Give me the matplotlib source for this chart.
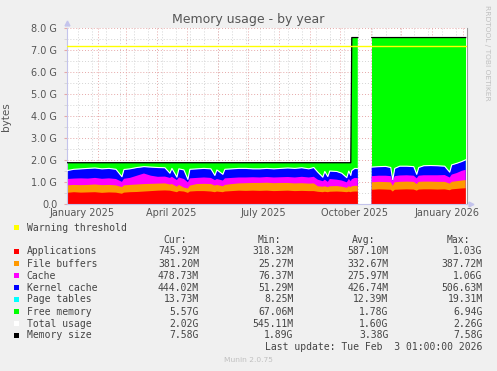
import numpy as np
import pandas as pd
import matplotlib
matplotlib.use('Agg')
import matplotlib.pyplot as plt
from matplotlib.patches import Rectangle

W, H = 497, 371
nan = np.nan

# days since 1 January 2025; values in GiB
days = [0, 7, 14, 21, 28, 35, 42, 49, 55, 57, 63, 70, 77, 84, 91, 98, 103, 105,
        110, 112, 117, 121, 123, 130, 137, 144, 148, 150, 156, 158, 165, 172, 179,
        186, 193, 200, 207, 214, 221, 228, 235, 242, 247, 251, 256, 258, 261, 263,
        270, 275, 280, 282, 284, 285, 288, 291, 298, 305, 312, 319, 324, 326, 328,
        333, 340, 347, 350, 352, 357, 364, 371, 378, 383, 385, 390, 395, 399]
apps = [.52, .55, .53, .54, .55, .52, .54, .53, .48, .53, .55, .56, .58, .60, .62, .63, .62, .60,
        .55, .60, .58, .52, .58, .60, .60, .58, .55, .58, .55, .58, .60, .62, .61,
        .62, .61, .62, .60, .61, .62, .60, .61, .60, .60, .57, .55, .57, .55, .57,
        .58, .57, .55, .57, .55, .57, .58, .58, nan, .66, .68, .67, .66, .58, .66,
        .67, .68, .67, .62, .67, .68, .68, .67, .68, .64, .68, .70, .72, .73]
buffers = [.34, .33, .34, .34, .35, .35, .34, .33, .30, .33, .33, .34, .34, .33, .32, .32, .28, .32,
           .25, .28, .18, .20, .27, .32, .33, .34, .30, .30, .27, .30, .32, .33, .35,
           .35, .36, .36, .36, .36, .35, .35, .35, .34, .35, .25, .25, .25, .23, .25,
           .25, .23, .20, .25, .23, .25, .26, .26, nan, .34, .34, .34, .34, .26, .34,
           .35, .35, .35, .30, .35, .35, .35, .35, .34, .30, .34, .35, .36, .37]
cache = [.29, .29, .31, .29, .30, .29, .30, .29, .24, .30, .32, .40, .48, .37, .31, .31, .30, .33,
         .30, .34, .39, .28, .33, .28, .29, .28, .25, .27, .26, .30, .28, .27, .26,
         .26, .25, .26, .26, .26, .27, .27, .29, .28, .30, .30, .25, .30, .24, .33,
         .29, .28, .25, .33, .27, .32, .36, .35, nan, .28, .28, .29, .28, .21, .28,
         .29, .29, .28, .26, .28, .29, .29, .30, .31, .28, .33, .37, .44, .47]
kernel = [.37, .41, .42, .45, .44, .44, .44, .43, .22, .41, .40, .36, .30, .38, .41, .39, .20, .37,
          .12, .38, .40, .12, .40, .40, .40, .40, .20, .40, .27, .40, .40, .40, .40,
          .37, .38, .38, .38, .39, .40, .40, .40, .38, .41, .33, .17, .36, .23, .35,
          .36, .32, .20, .35, .25, .38, .42, .42, nan, .40, .40, .41, .38, .05, .34,
          .41, .40, .40, .17, .36, .42, .43, .42, .39, .23, .43, .43, .41, .44]
page_tables = [0.012 if d != 298 else nan for d in days]

mem_before, mem_after, mem_change_day = 1.89, 7.58, 285
warning = 7.2

names = ['Applications', 'File buffers', 'Cache', 'Kernel cache', 'Page tables',
         'Free memory', 'Total usage', 'Memory size']
colors = ['#ff0000', '#ff9900', '#ff00ff', '#0000ff', '#00ffff', '#00ff00',
          '#ffffff', '#000000']
cur = ['745.92M', '381.20M', '478.73M', '444.02M', '13.73M', '5.57G', '2.02G', '7.58G']
mins = ['318.32M', '25.27M', '76.37M', '51.29M', '8.25M', '67.06M', '545.11M', '1.89G']
avgs = ['587.10M', '332.67M', '275.97M', '426.74M', '12.39M', '1.78G', '1.60G', '3.38G']
maxs = ['1.03G', '387.72M', '1.06G', '506.63M', '19.31M', '6.94G', '2.26G', '7.58G']

x = np.array(days, dtype=float)
layers = np.array([apps, buffers, cache, kernel, page_tables], dtype=float)
used = layers.sum(axis=0)
mem = np.where(x < mem_change_day, mem_before, mem_after)
mem[np.isnan(used)] = nan
free = mem - used
tops = np.cumsum(np.vstack([layers, free]), axis=0)

fig = plt.figure(figsize=(W / 100, H / 100), dpi=100)
fig.patch.set_facecolor('#f0f0f0')
ax = fig.add_axes([67 / W, 1 - 204.3 / H, 399.7 / W, 176 / H])
ax.set_facecolor('white')
ax.set_xlim(0, 400)
ax.set_ylim(0, 8)

# grid
start = pd.Timestamp('2025-01-01')
month_days = (pd.date_range('2025-01-01', '2026-02-01', freq='MS') - start).days
week_days = (pd.date_range('2025-01-12', '2026-02-05', freq='14D') - start).days
dots = (0, (1, 2))
for d in week_days:
    ax.axvline(d, color='#d4d4d4', lw=0.7, ls=dots, zorder=0)
for v in np.arange(0.5, 8, 1.0):
    ax.axhline(v, color='#d4d4d4', lw=0.7, ls=dots, zorder=0)
for d in month_days:
    ax.axvline(d, color='#e6a8a8', lw=0.7, ls=dots, zorder=0.5)
for v in range(1, 9):
    ax.axhline(v, color='#e6a8a8', lw=0.7, ls=dots, zorder=0.5)

# stacked areas
for k in range(len(tops) - 1, -1, -1):
    ax.fill_between(x, 0, tops[k], color=colors[k], lw=0, zorder=2)
ax.plot(x, used, color='white', lw=0.8, zorder=3)
ax.plot(x, mem, color='black', lw=0.9, zorder=3)
ax.axhline(warning, color='#ffff00', lw=1, zorder=3)

# axes
for s in ['top']:
    ax.spines[s].set_visible(False)
ax.spines['right'].set_color('#999999')
ax.spines['right'].set_linewidth(0.8)
for s in ['left', 'bottom']:
    ax.spines[s].set_color('#c4c4ec')
    ax.spines[s].set_linewidth(0.8)
ax.plot([0], [1.03], marker='^', ms=3.5, color='#c4c4ec', transform=ax.transAxes, clip_on=False)
ax.plot([1.01], [0], marker='>', ms=3.5, color='#c4c4ec', transform=ax.transAxes, clip_on=False)

ax.set_yticks(range(0, 9))
ax.set_yticklabels(['0.0'] + ['%.1f G' % v for v in range(1, 9)])
ax.set_yticks(np.arange(0.5, 8, 1.0), minor=True)
ax.tick_params(axis='y', which='major', length=2.5, color='#e6a8a8', labelsize=7,
               labelcolor='#555555', pad=4.5)
ax.tick_params(axis='y', which='minor', length=2, color='#d4d4d4')
label_days = [15, 104, 196, 288, 380]
ax.set_xticks(label_days)
ax.set_xticklabels(['January 2025', 'April 2025', 'July 2025', 'October 2025', 'January 2026'])
ax.tick_params(axis='x', length=0, labelsize=7, labelcolor='#555555', pad=3)
ax.set_ylabel('bytes', fontsize=7.5, color='#555555', labelpad=6)
ax.yaxis.set_label_coords(-55.5 / 399.7, 0.5)

def fx(px):
    return px / W

def fy(py):
    return 1 - py / H

fig.text(fx(248), fy(19.3), 'Memory usage - by year', fontsize=9, color='#555555',
         ha='center', va='center')
fig.text(fx(487), fy(5), 'RRDTOOL / TOBI OETIKER', fontsize=5.4, color='#c0c0c0',
         rotation=270, ha='center', va='top')

mono = dict(family='DejaVu Sans Mono', fontsize=7, color='#444444', va='center')

def square(py, c):
    fig.patches.append(Rectangle((fx(14), fy(py + 2.5)), 5 / W, 5 / H, facecolor=c,
                                 edgecolor='none', transform=fig.transFigure))

square(227.7, '#ffff00')
fig.text(fx(26.7), fy(227.7), 'Warning threshold', **mono)
for hx, h in zip([163, 258, 352, 447], ['Cur:', 'Min:', 'Avg:', 'Max:']):
    fig.text(fx(hx), fy(240), h, **mono)
row_y = [251.3, 263.7, 275.7, 287.7, 299.3, 311.7, 323.7, 335.3]
for i in range(len(names)):
    square(row_y[i], colors[i])
    fig.text(fx(26.7), fy(row_y[i]), names[i], **mono)
    for rx, col in zip([199, 293.3, 388.3, 482.7], [cur, mins, avgs, maxs]):
        fig.text(fx(rx), fy(row_y[i]), col[i], ha='right', **{k: v for k, v in mono.items()})
fig.text(fx(482.7), fy(347.3), 'Last update: Tue Feb  3 01:00:00 2026', ha='right', **mono)
fig.text(fx(248), fy(360), 'Munin 2.0.75', fontsize=5.4, color='#c0c0c0', ha='center', va='center')

fig.savefig('out.png', dpi=100, facecolor=fig.get_facecolor())
